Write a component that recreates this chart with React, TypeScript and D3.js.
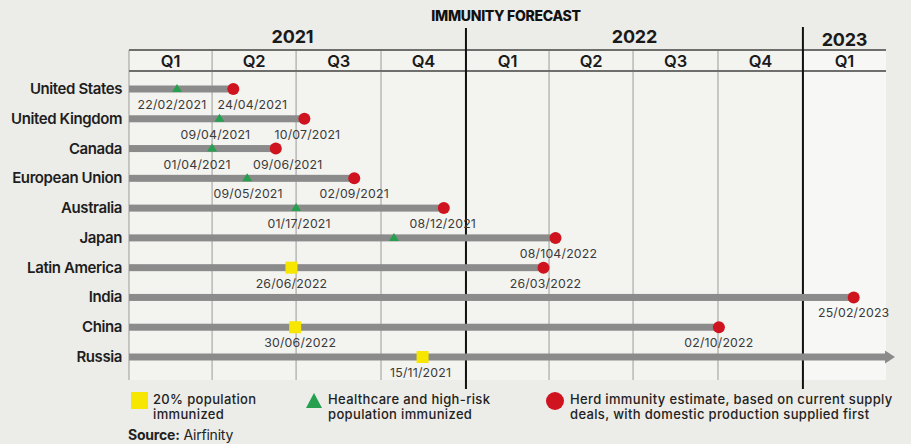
import * as d3 from "d3";
import React from "react";

// rows top -> bottom
const countries = [
  "United States", "United Kingdom", "Canada", "European Union", "Australia",
  "Japan", "Latin America", "India", "China", "Russia",
];

// kind: tri = healthcare/high-risk, sq = 20% immunized, dot = herd immunity
type Mark = { country: string; kind: "tri" | "sq" | "dot"; date: string; label: string };

const triMarks: Mark[] = [
  { country: "United States", kind: "tri", date: "2021-02-22", label: "22/02/2021" },
  { country: "United Kingdom", kind: "tri", date: "2021-04-09", label: "09/04/2021" },
  { country: "Canada", kind: "tri", date: "2021-04-01", label: "01/04/2021" },
  { country: "European Union", kind: "tri", date: "2021-05-09", label: "09/05/2021" },
  { country: "Australia", kind: "tri", date: "2021-07-01", label: "01/17/2021" },
  { country: "Japan", kind: "tri", date: "2021-10-15", label: "" },
];

const sqMarks: Mark[] = [
  { country: "Latin America", kind: "sq", date: "2021-06-26", label: "26/06/2022" },
  { country: "China", kind: "sq", date: "2021-06-30", label: "30/06/2022" },
  { country: "Russia", kind: "sq", date: "2021-11-15", label: "15/11/2021" },
];

const dotMarks: Mark[] = [
  { country: "United States", kind: "dot", date: "2021-04-24", label: "24/04/2021" },
  { country: "United Kingdom", kind: "dot", date: "2021-07-10", label: "10/07/2021" },
  { country: "Canada", kind: "dot", date: "2021-06-09", label: "09/06/2021" },
  { country: "European Union", kind: "dot", date: "2021-09-02", label: "02/09/2021" },
  { country: "Australia", kind: "dot", date: "2021-12-08", label: "08/12/2021" },
  { country: "Japan", kind: "dot", date: "2022-04-08", label: "08/104/2022" },
  { country: "Latin America", kind: "dot", date: "2022-03-26", label: "26/03/2022" },
  { country: "India", kind: "dot", date: "2023-02-25", label: "25/02/2023" },
  { country: "China", kind: "dot", date: "2022-10-02", label: "02/10/2022" },
];

// Russia has no herd immunity date -> arrow
const openEnded = ["Russia"];

const years = ["2021", "2022", "2023"];
const quarters = ["2021-01-01", "2021-04-01", "2021-07-01", "2021-10-01", "2022-01-01", "2022-04-01", "2022-07-01", "2022-10-01", "2023-01-01"];
const quarterLabels = ["Q1", "Q2", "Q3", "Q4", "Q1", "Q2", "Q3", "Q4", "Q1"];

// small label nudges so the text sits like the original
const nudge: Record<string, number> = {
  "United States-tri": -5, "United States-dot": 19,
  "United Kingdom-tri": -4, "United Kingdom-dot": 3,
  "Canada-tri": -15, "Canada-dot": 12,
  "European Union-tri": 1, "Australia-tri": 3, "Australia-dot": -1,
  "Japan-dot": 3, "Latin America-dot": 2, "China-sq": 5, "Russia-sq": -2,
};

const W = 911, H = 444;
const BG = "#ecece8";
const GREY = "#8b8b8b";
const YELLOW = "#f6e600";
const GREEN = "#26a04e";
const RED = "#cf1420";
const FONT = "Inter, 'Noto Sans', sans-serif";

export default function App() {
  const parse = d3.utcParse("%Y-%m-%d");
  const x = d3.scaleUtc()
    .domain([parse("2021-01-01")!, parse("2023-04-01")!])
    .range([129, 886]);
  const y = d3.scalePoint<string>().domain(countries).range([89, 357]);

  const allMarks = [...triMarks, ...sqMarks, ...dotMarks];
  const ends = new Map<string, number>();
  dotMarks.forEach(m => ends.set(m.country, x(parse(m.date)!)));

  const qx = quarters.map(q => x(parse(q)!));
  const right = x.range()[1];
  const bounds = [...qx, right];
  const yearTop = 50, yearBot = 71, plotBot = 380;
  const legendText = { fontSize: 13, fontWeight: 500, letterSpacing: 0.35, fill: "#222" };

  return (
    <svg width={W} height={H} style={{ position: "fixed", left: 0, top: 0, fontFamily: FONT }}>
      <rect width={W} height={H} fill={BG} />
      <rect x={qx[0]} y={yearTop} width={right - qx[0]} height={plotBot - yearTop} fill="#f3f3f0" />
      <rect x={qx[8]} y={yearTop} width={right - qx[8]} height={plotBot - yearTop} fill="#f7f7f5" />

      <text x={506} y={21} textAnchor="middle" fontSize={14} fontWeight={800} letterSpacing={-0.3} fill="#111">IMMUNITY FORECAST</text>

      {/* year labels */}
      {years.map((yr, i) => {
        const a = i === 0 ? bounds[0] : i === 1 ? bounds[4] : bounds[8];
        const b = i === 0 ? bounds[4] : i === 1 ? bounds[8] : bounds[9];
        return (
          <text key={yr} x={(a + b) / 2 - (i === 0 ? 5 : 0)} y={i === 2 ? 46 : 43} textAnchor="middle"
            fontSize={18} fontWeight={700} letterSpacing={-0.2} fill="#1a1a1a">{yr}</text>
        );
      })}

      {/* quarter grid */}
      {bounds.slice(0, 9).map((b, i) => (
        <line key={"g" + i} x1={b} x2={b} y1={yearTop} y2={plotBot} stroke="#a9a9a6" strokeWidth={1.2} />
      ))}
      <line x1={qx[0]} x2={right} y1={yearTop} y2={yearTop} stroke="#6e6e6c" strokeWidth={2} />
      <line x1={qx[0]} x2={right} y1={yearBot} y2={yearBot} stroke="#6e6e6c" strokeWidth={2} />
      {quarterLabels.map((q, i) => (
        <text key={"q" + i} x={(bounds[i] + bounds[i + 1]) / 2} y={67} textAnchor="middle"
          fontSize={16.5} fontWeight={600} letterSpacing={-0.2} fill="#1a1a1a">{q}</text>
      ))}
      <line x1={qx[4]} x2={qx[4]} y1={28} y2={389} stroke="#111" strokeWidth={2} />
      <line x1={qx[8]} x2={qx[8]} y1={27} y2={389} stroke="#111" strokeWidth={2} />

      {/* country labels */}
      {countries.map(c => (
        <text key={c} x={122} y={y(c)! + 5} textAnchor="end" fontSize={15} fontWeight={600}
          letterSpacing={-0.4} fill="#1e1e1e">{c}</text>
      ))}

      {/* bars */}
      {countries.map(c => {
        const yy = y(c)!;
        if (openEnded.includes(c)) {
          return (
            <g key={"b" + c}>
              <rect x={qx[0]} y={yy - 3.5} width={right - qx[0]} height={7} fill={GREY} />
              <path d={`M${right - 1},${yy - 6.5}L${right + 9},${yy}L${right - 1},${yy + 6.5}Z`} fill={GREY} />
            </g>
          );
        }
        return <rect key={"b" + c} x={qx[0]} y={yy - 3.5} width={(ends.get(c) ?? qx[0]) - qx[0]} height={7} fill={GREY} />;
      })}

      {/* markers */}
      {allMarks.map((m, i) => {
        const cx = x(parse(m.date)!);
        const cy = y(m.country)!;
        if (m.kind === "dot") return <circle key={i} cx={cx} cy={cy} r={6} fill={RED} />;
        if (m.kind === "sq") return <rect key={i} x={cx - 6} y={cy - 6} width={12} height={12} fill={YELLOW} />;
        return <path key={i} d={`M${cx - 5},${cy + 3}L${cx},${cy - 5}L${cx + 5},${cy + 3}Z`} fill={GREEN} />;
      })}

      {/* date labels */}
      {allMarks.filter(m => m.label).map((m, i) => (
        <text key={"l" + i} x={x(parse(m.date)!) + (nudge[`${m.country}-${m.kind}`] ?? 0)} y={y(m.country)! + 20}
          textAnchor="middle" fontSize={12.3} letterSpacing={0.2} fill="#3a3a3a">{m.label}</text>
      ))}

      {/* legend */}
      <rect x={131} y={392} width={17} height={17} fill={YELLOW} />
      <text x={153} y={404} {...legendText}>20% population</text>
      <text x={153} y={419} {...legendText}>immunized</text>
      <path d="M306,408L314,393L322,408Z" fill={GREEN} />
      <text x={328} y={404} {...legendText}>Healthcare and high-risk</text>
      <text x={328} y={419} {...legendText}>population immunized</text>
      <circle cx={555} cy={401} r={9} fill={RED} />
      <text x={570} y={404} {...legendText}>Herd immunity estimate, based on current supply</text>
      <text x={570} y={419} {...legendText}>deals, with domestic production supplied first</text>
      <text x={128} y={440} fontSize={14} letterSpacing={-0.2} fill="#222">
        <tspan fontWeight={700}>Source:</tspan> Airfinity
      </text>
    </svg>
  );
}
